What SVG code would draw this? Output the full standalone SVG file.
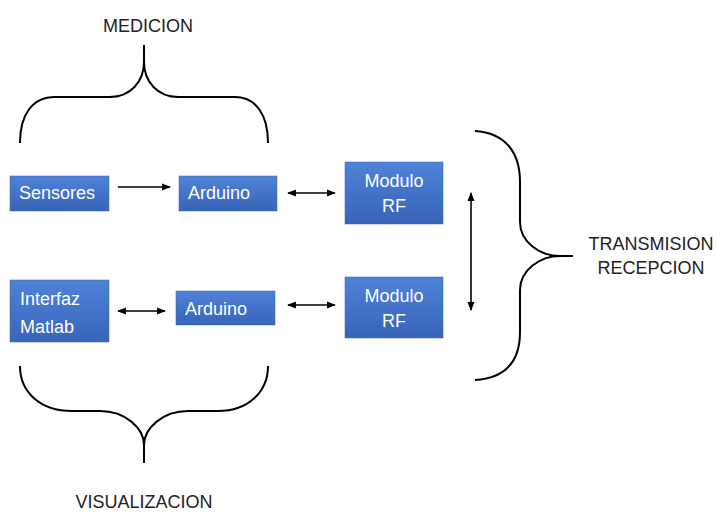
<svg xmlns="http://www.w3.org/2000/svg" width="716" height="513" viewBox="0 0 716 513">
<defs>
<linearGradient id="blue" x1="0" y1="0" x2="0" y2="1">
<stop offset="0" stop-color="#4f82d8"/>
<stop offset="1" stop-color="#3764b8"/>
</linearGradient>
<marker id="ah" viewBox="0 0 10 10" refX="9" refY="5" markerWidth="5.5" markerHeight="5.5" orient="auto-start-reverse">
<path d="M0,1 L10,5 L0,9 Z" fill="#000"/>
</marker>
</defs>
<style>
.box{fill:url(#blue);stroke:#3a64b0;stroke-width:0.5}
.bt{font-family:"Liberation Sans",Arial,sans-serif;font-size:18px;fill:#fff}
.lab{font-family:"Liberation Sans",Arial,sans-serif;font-size:18px;fill:#222}
.br{fill:none;stroke:#000;stroke-width:2}
.con{stroke:#000;stroke-width:1.6;fill:none;marker-end:url(#ah)}
.bi{marker-start:url(#ah)}
</style>
<rect width="716" height="513" fill="#fff"/>
<g id="n-sensores"><rect class="box" x="10" y="176" width="99" height="35"/><text class="bt" x="19" y="199">Sensores</text></g>
<g id="n-arduino1"><rect class="box" x="179" y="176" width="98" height="35"/><text class="bt" x="188" y="199">Arduino</text></g>
<g id="n-modulo1"><rect class="box" x="345" y="162" width="98" height="62"/><text class="bt" x="394" y="187" text-anchor="middle">Modulo</text><text class="bt" x="394" y="212" text-anchor="middle">RF</text></g>
<g id="n-interfaz"><rect class="box" x="10" y="280" width="99" height="62"/><text class="bt" x="20" y="305">Interfaz</text><text class="bt" x="20" y="333">Matlab</text></g>
<g id="n-arduino2"><rect class="box" x="176" y="291" width="99" height="34"/><text class="bt" x="185" y="315">Arduino</text></g>
<g id="n-modulo2"><rect class="box" x="345" y="277" width="98" height="61"/><text class="bt" x="394" y="302" text-anchor="middle">Modulo</text><text class="bt" x="394" y="327" text-anchor="middle">RF</text></g>
<g id="connectors">
<line class="con" x1="118" y1="187" x2="170" y2="187"/>
<line class="con bi" x1="288" y1="193" x2="335" y2="193"/>
<line class="con bi" x1="118" y1="311" x2="165" y2="311"/>
<line class="con bi" x1="288" y1="305" x2="335" y2="305"/>
<line class="con bi" x1="471" y1="193" x2="471" y2="310"/>
</g>
<g id="braces">
<path class="br" d="M20,143 C20,115 32,97 55,97 L110,97 C130,97 144,82 144,62 L144,45 M144,62 C144,82 158,97 178,97 L235,97 C256,97 268,115 268,143"/>
<path class="br" d="M20,366 C20,392 40,411 72,411 L100,411 C125,411 144,428 144,445 L144,463 M144,445 C144,428 163,411 188,411 L218,411 C248,411 268,392 268,366"/>
<path class="br" d="M475,131 C505,133 520,152 520,182 L520,222 C520,242 540,256 560,256 L573,256 M560,256 C540,256 520,270 520,290 L520,332 C520,362 505,378 475,380"/>
</g>
<g id="labels">
<text class="lab" x="148" y="32" text-anchor="middle">MEDICION</text>
<text class="lab" x="144" y="508" text-anchor="middle">VISUALIZACION</text>
<text class="lab" x="651" y="250" text-anchor="middle">TRANSMISION</text>
<text class="lab" x="651" y="274" text-anchor="middle">RECEPCION</text>
</g>
</svg>
